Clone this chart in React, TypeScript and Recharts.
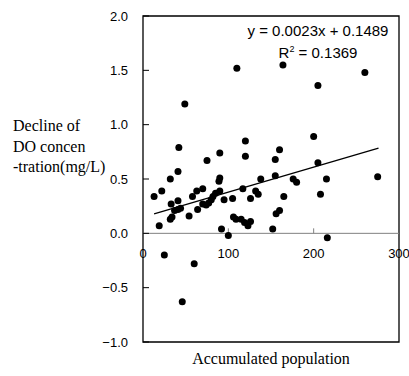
import React from 'react';
import {
  ScatterChart,
  Scatter,
  XAxis,
  YAxis,
  ReferenceLine,
  ReferenceArea,
  ReferenceDot
} from 'recharts';

// accumulated population (x) vs decline of DO concentration (y)
const popX = [
  13, 22, 19, 32, 42, 41, 33, 41, 32, 34, 37, 41, 44, 54, 58, 63, 64, 70, 75, 70,
  74, 77, 80, 82, 85, 90, 89, 90, 90, 92, 95, 100, 105, 106, 109, 115, 119, 123, 126, 126,
  117, 120, 120, 132, 135, 138, 152, 155, 160, 155, 156, 160, 165, 176, 180, 200, 205, 215, 208, 275,
  216, 49, 110, 164, 260, 205, 25, 60, 46
];
const doDecline = [
  0.34, 0.39, 0.07, 0.5, 0.79, 0.57, 0.27, 0.3, 0.13, 0.15, 0.21, 0.22, 0.23, 0.16, 0.34, 0.39, 0.22, 0.41, 0.67, 0.27,
  0.26, 0.28, 0.31, 0.34, 0.37, 0.74, 0.48, 0.51, 0.39, 0.04, 0.31, -0.02, 0.32, 0.15, 0.13, 0.13, 0.1, 0.07, 0.11, 0.32,
  0.41, 0.85, 0.71, 0.39, 0.36, 0.5, 0.04, 0.68, 0.77, 0.53, 0.18, 0.21, 0.34, 0.5, 0.47, 0.89, 0.65, 0.5, 0.36, 0.52,
  -0.04, 1.19, 1.52, 1.55, 1.48, 1.36, -0.2, -0.28, -0.63
];

// linear trend line end points (y = 0.0023x + 0.1489)
const trendX = [13, 276];
const trendY = [0.179, 0.784];

const xTicks = [0, 100, 200, 300];
const yTicks = [-1, -0.5, 0, 0.5, 1, 1.5, 2];

const points = popX.map((x, i) => ({ x, y: doDecline[i] }));
const trend = trendX.map((x, i) => ({ x, y: trendY[i] }));

const W = 409;
const H = 376;
const SANS = '"Liberation Sans", Arial, sans-serif';
const SERIF = '"Liberation Serif", "Times New Roman", serif';

const YTick = (props: any) => {
  const { x, y, payload } = props;
  const v = payload.value as number;
  const label = (v < 0 ? '\u2212' : '') + Math.abs(v).toFixed(1);
  return (
    <g>
      <line x1={x + 15} x2={x + 21} y1={y} y2={y} stroke="#000" strokeWidth={1} />
      <text x={x} y={y} dy={4.5} textAnchor="end" fontSize={13} fontFamily={SANS} fill="#000">
        {label}
      </text>
    </g>
  );
};

// x ticks sit on the zero line, not on the bottom of the box
const xTickShape = (v: number) => (props: any) => {
  const { cx, cy } = props;
  return (
    <g>
      {v > 0 && v < 300 && (
        <line x1={cx} x2={cx} y1={cy} y2={cy - 5} stroke="#808080" strokeWidth={1} />
      )}
      <text x={cx} y={cy} dy={25} textAnchor="middle" fontSize={13} fontFamily={SANS} fill="#000">
        {v}
      </text>
    </g>
  );
};

export default function App() {
  return (
    <div style={{ position: 'absolute', left: 0, top: 0, width: W, height: H, background: '#fff' }}>
      <ScatterChart width={W} height={H} margin={{ top: 16, right: 10, bottom: 34, left: 0 }}>
        <XAxis type="number" dataKey="x" domain={[0, 300]} ticks={xTicks} hide />
        <YAxis
          type="number"
          dataKey="y"
          domain={[-1, 2]}
          ticks={yTicks}
          width={143}
          tickSize={0}
          tickMargin={15}
          axisLine={false}
          tick={<YTick />}
        />
        <ReferenceLine y={0} stroke="#808080" strokeWidth={1} />
        <ReferenceArea x1={0} x2={300} y1={-1} y2={2} fill="none" stroke="#000" strokeWidth={1.3} />
        {xTicks.map((v) => (
          <ReferenceDot key={v} x={v} y={0} r={0} shape={xTickShape(v)} />
        ))}
        <Scatter data={points} fill="#000" isAnimationActive={false} shape={(p: any) => <circle cx={p.cx} cy={p.cy} r={3.5} fill="#000" />} />
        <Scatter
          data={trend}
          line={{ stroke: '#000', strokeWidth: 1.3 }}
          shape={() => <g />}
          isAnimationActive={false}
        />
      </ScatterChart>
      <svg width={W} height={H} style={{ position: 'absolute', left: 0, top: 0, pointerEvents: 'none' }}>
        <text x={318} y={36} textAnchor="middle" fontSize={15} fontFamily={SANS} fill="#000">
          y = 0.0023x + 0.1489
        </text>
        <text x={318} y={58} textAnchor="middle" fontSize={15} fontFamily={SANS} fill="#000">
          R<tspan fontSize={9} dy={-6}>2</tspan>
          <tspan dy={6}> = 0.1369</tspan>
        </text>
        <g fontSize={16} fontFamily={SERIF} fill="#000">
          <text x={13} y={131}>Decline of</text>
          <text x={13} y={151.5}>DO concen</text>
          <text x={13} y={172}>-tration(mg/L)</text>
        </g>
        <text x={271} y={364} textAnchor="middle" fontSize={16} fontFamily={SERIF} fill="#000">
          Accumulated population
        </text>
      </svg>
    </div>
  );
}
